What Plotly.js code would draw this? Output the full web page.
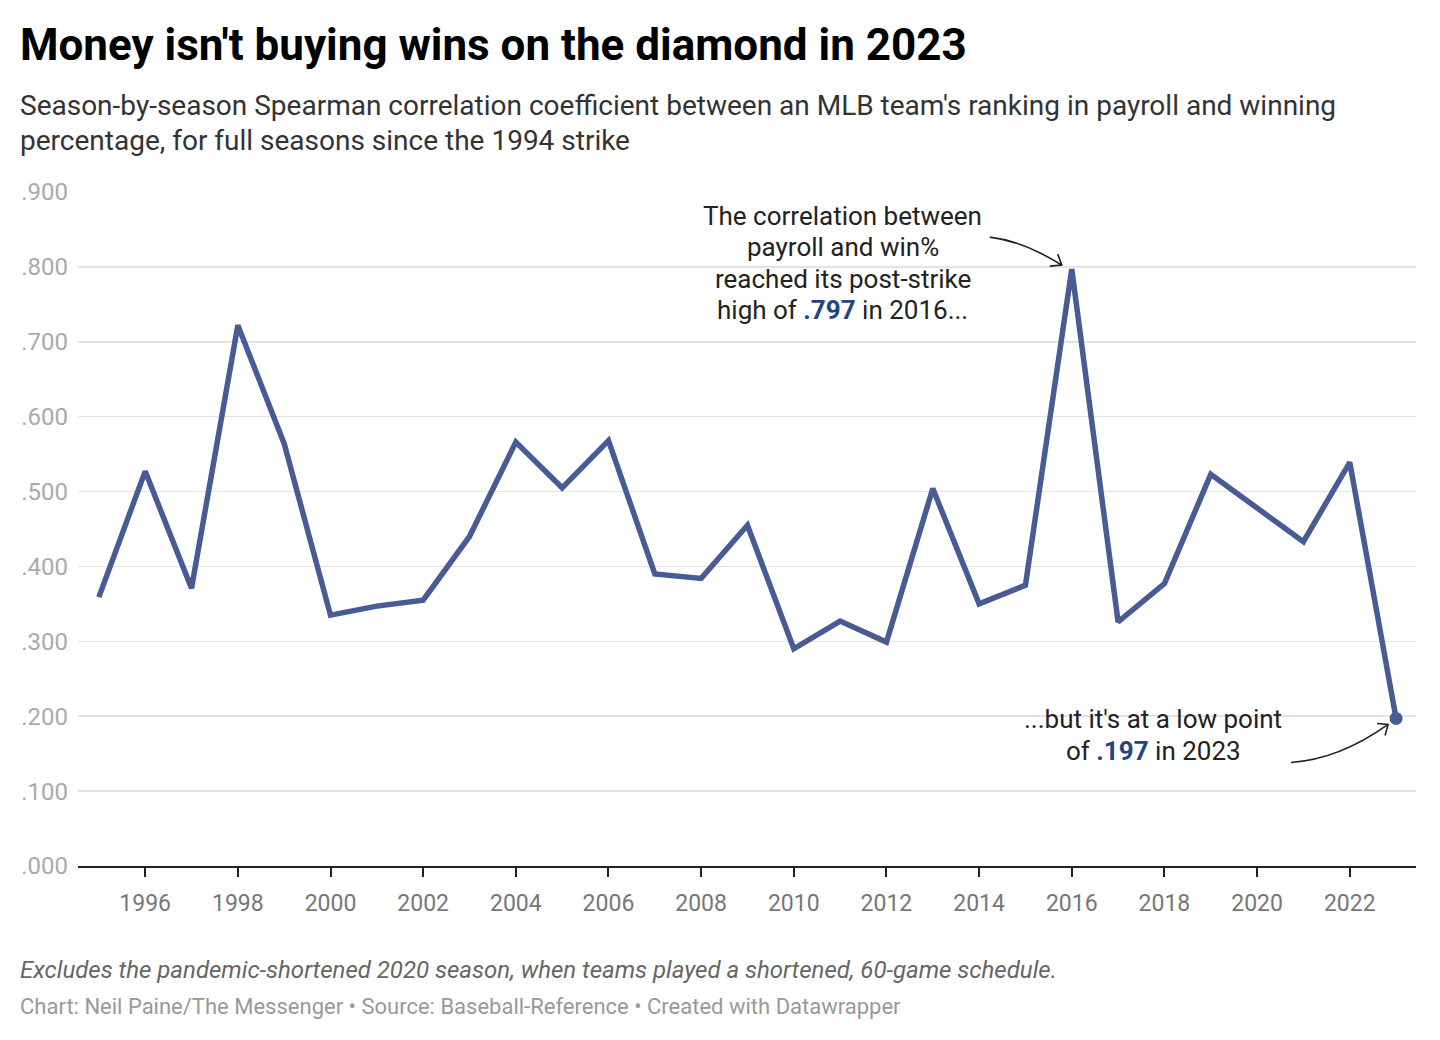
<!DOCTYPE html>
<html>
<head>
<meta charset="utf-8">
<script src="https://cdn.plot.ly/plotly-3.0.1.min.js"></script>
<style>
  html, body { margin: 0; padding: 0; background: #fff; }
  #chart { width: 1440px; height: 1040px; }
</style>
</head>
<body>
<div id="chart"></div>
<script>
// ---- Data (2020 excluded: pandemic-shortened season) ----
const seasons = [1995, 1996, 1997, 1998, 1999, 2000, 2001, 2002, 2003, 2004,
                 2005, 2006, 2007, 2008, 2009, 2010, 2011, 2012, 2013, 2014,
                 2015, 2016, 2017, 2018, 2019, 2021, 2022, 2023];
const correlation = [0.359, 0.527, 0.371, 0.722, 0.564, 0.335, 0.347, 0.355, 0.440, 0.566,
                     0.505, 0.568, 0.390, 0.384, 0.455, 0.290, 0.327, 0.299, 0.504, 0.350,
                     0.375, 0.797, 0.326, 0.377, 0.523, 0.433, 0.539, 0.197];
const yTickVals = [0, 0.1, 0.2, 0.3, 0.4, 0.5, 0.6, 0.7, 0.8, 0.9];
const yTickLabels = ['.000', '.100', '.200', '.300', '.400', '.500', '.600', '.700', '.800', '.900'];

const highYear = 2016, highVal = 0.797;
const lastYear = seasons[seasons.length - 1];
const lastVal = correlation[correlation.length - 1];

// ---- Layout geometry ----
const W = 1440, H = 1040;
const M = { l: 78, r: 24, t: 192, b: 174 };
const plotW = W - M.l - M.r, plotH = H - M.t - M.b;
const px = x => (x - M.l) / plotW;
const py = y => (H - M.b - y) / plotH;

const lineColor = '#485b95';
const accent = '#1f4582';
const FONT = 'Roboto, "Noto Sans", sans-serif';

const highLines = [
  'The correlation between',
  'payroll and win%',
  'reached its post-strike',
  'high of <b><span style="color:' + accent + '">.797</span></b> in 2016...'
];
const lowLines = [
  "...but it's at a low point",
  'of <b><span style="color:' + accent + '">.197</span></b> in 2023'
];

function noteLines(lines, xv, yv, xshift, firstShift, spacing) {
  return lines.map((t, i) => ({
    xref: 'x', yref: 'y', x: xv, y: yv,
    xshift: xshift, yshift: firstShift - i * spacing,
    xanchor: 'center', yanchor: 'middle', showarrow: false, align: 'center',
    text: t,
    font: { family: FONT, size: 26, color: '#222' }
  }));
}

const traces = [
  {
    type: 'scatter', mode: 'lines',
    x: seasons, y: correlation,
    line: { color: lineColor, width: 5.5, shape: 'linear' },
    hoverinfo: 'skip'
  },
  {
    type: 'scatter', mode: 'markers',
    x: [lastYear], y: [lastVal],
    marker: { color: lineColor, size: 13, line: { width: 0 } },
    hoverinfo: 'skip'
  }
];

const layout = {
  width: W, height: H,
  margin: M,
  paper_bgcolor: '#fff', plot_bgcolor: '#fff',
  showlegend: false,
  hovermode: false,
  font: { family: FONT, color: '#222' },
  title: {
    text: "<b>Money isn't buying wins on the diamond in 2023</b>",
    font: { family: FONT, size: 44, color: '#000' },
    xref: 'container', x: 20 / W, xanchor: 'left',
    yref: 'container', y: 1 - 45 / H, yanchor: 'middle'
  },
  xaxis: {
    range: [1994.55, 2023.43],
    tickmode: 'linear', tick0: 1996, dtick: 2,
    ticks: 'outside', ticklen: 9, tickwidth: 2, tickcolor: '#222',
    showline: true, linecolor: '#222', linewidth: 2,
    showgrid: false, zeroline: false,
    ticklabelstandoff: 6,
    tickfont: { family: FONT, size: 23, color: '#777' },
    fixedrange: true
  },
  yaxis: {
    range: [0, 0.9],
    tickmode: 'array', tickvals: yTickVals, ticktext: yTickLabels,
    ticks: '', showline: false, zeroline: false,
    showgrid: true, gridcolor: '#e3e3e3', gridwidth: 1.5,
    ticklabelstandoff: 9,
    tickfont: { family: FONT, size: 24, color: '#aaa' },
    fixedrange: true
  },
  annotations: [
    {
      xref: 'paper', yref: 'paper', x: px(18), y: py(106),
      xanchor: 'left', yanchor: 'middle', showarrow: false, align: 'left',
      text: "Season-by-season Spearman correlation coefficient between an MLB team's ranking in payroll and winning",
      font: { family: FONT, size: 28, color: '#333' }
    },
    {
      xref: 'paper', yref: 'paper', x: px(18), y: py(140),
      xanchor: 'left', yanchor: 'middle', showarrow: false, align: 'left',
      text: 'percentage, for full seasons since the 1994 strike',
      font: { family: FONT, size: 28, color: '#333' }
    },
    ...noteLines(highLines, highYear, highVal, -229, 53, 31.3),
    ...noteLines(lowLines, lastYear, lastVal, -243, -1, 32),
    {
      xref: 'paper', yref: 'paper', x: px(18), y: py(970),
      xanchor: 'left', yanchor: 'middle', showarrow: false, align: 'left',
      text: '<i>Excludes the pandemic-shortened 2020 season, when teams played a shortened, 60-game schedule.</i>',
      font: { family: FONT, size: 24, color: '#666' }
    },
    {
      xref: 'paper', yref: 'paper', x: px(18), y: py(1006),
      xanchor: 'left', yanchor: 'middle', showarrow: false, align: 'left',
      text: 'Chart: Neil Paine/The Messenger • Source: Baseball-Reference • Created with Datawrapper',
      font: { family: FONT, size: 22, color: '#999' }
    }
  ],
  shapes: [
    {
      type: 'path', xref: 'x', yref: 'y',
      xsizemode: 'pixel', ysizemode: 'pixel',
      xanchor: highYear, yanchor: highVal,
      path: 'M -82 32 Q -48 28 -10 4 M -22 3 L -10 4 L -14 15',
      line: { color: '#222', width: 1.6 }
    },
    {
      type: 'path', xref: 'x', yref: 'y',
      xsizemode: 'pixel', ysizemode: 'pixel',
      xanchor: lastYear, yanchor: lastVal,
      path: 'M -105 -44 Q -57 -41 -8 -6 M -19 -5 L -8 -6 L -11 -17',
      line: { color: '#222', width: 1.6 }
    }
  ]
};

Plotly.newPlot('chart', traces, layout, { displayModeBar: false, staticPlot: true });
</script>
</body>
</html>
